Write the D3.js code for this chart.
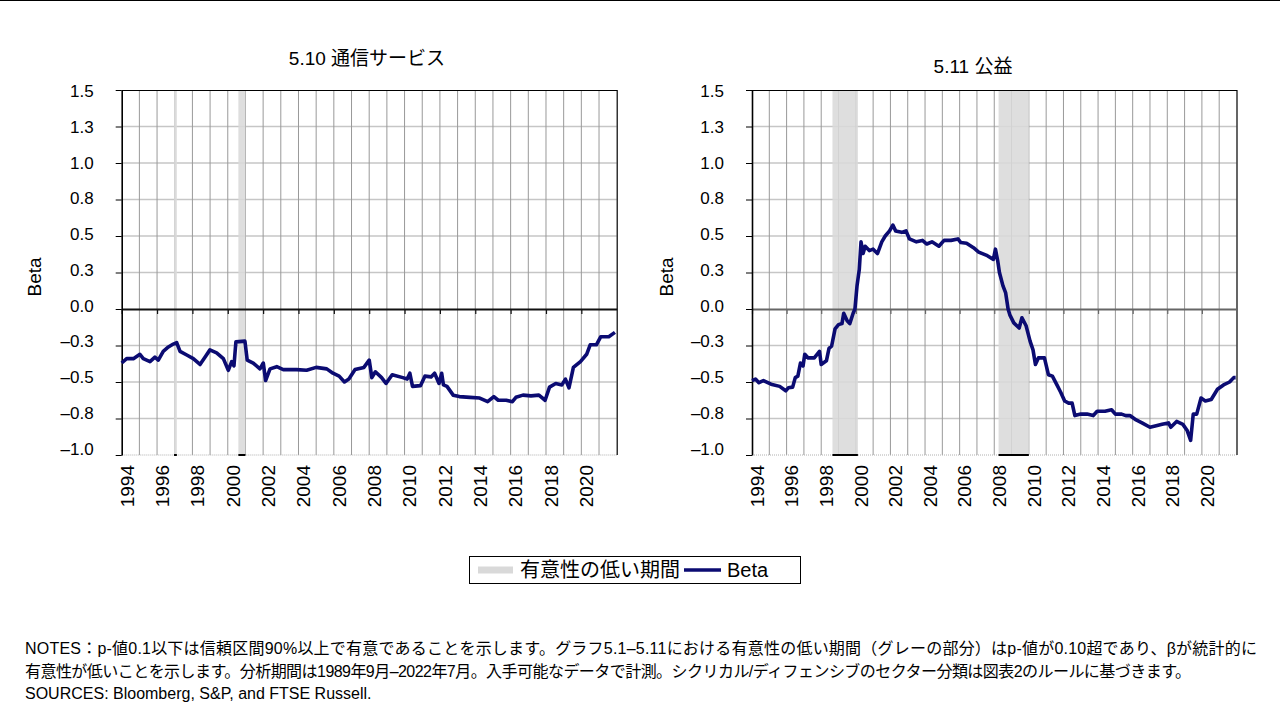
<!DOCTYPE html>
<html>
<head>
<meta charset="utf-8">
<script src="https://cdn.jsdelivr.net/npm/d3@7"></script>
<style>
  body { margin: 0; background: #fff; }
  text { font-family: "Liberation Sans", Arial, "Noto Sans CJK JP", sans-serif; fill: #000; }
</style>
</head>
<body>
<div class="chart"></div>
<script>
// ---- data ----
const commYears = [1994.0,1994.28,1994.66,1995.03,1995.22,1995.6,1995.88,1996.07,1996.35,1996.64,1996.92,1997.11,1997.3,1997.68,1998.05,1998.43,1998.71,1998.99,1999.37,1999.75,2000.03,2000.22,2000.35,2000.46,2000.97,2001.1,2001.44,2001.82,2002.01,2002.14,2002.39,2002.77,2003.14,2003.9,2004.46,2005.0,2005.6,2005.95,2006.3,2006.6,2006.85,2007.2,2007.7,2008.0,2008.15,2008.35,2008.7,2008.95,2009.3,2009.9,2010.15,2010.3,2010.45,2010.9,2011.15,2011.5,2011.7,2011.95,2012.1,2012.2,2012.4,2012.75,2013.1,2013.7,2014.25,2014.7,2015.05,2015.3,2015.75,2016.1,2016.3,2016.7,2017.15,2017.6,2017.95,2018.2,2018.55,2018.9,2019.1,2019.3,2019.55,2019.95,2020.3,2020.5,2020.85,2021.1,2021.55,2021.9];
const commBeta = [-0.37,-0.34,-0.34,-0.31,-0.34,-0.36,-0.33,-0.35,-0.29,-0.26,-0.24,-0.23,-0.29,-0.315,-0.34,-0.38,-0.33,-0.28,-0.30,-0.34,-0.42,-0.36,-0.39,-0.225,-0.22,-0.35,-0.37,-0.41,-0.37,-0.49,-0.41,-0.395,-0.415,-0.415,-0.42,-0.40,-0.41,-0.44,-0.46,-0.50,-0.48,-0.415,-0.40,-0.35,-0.47,-0.43,-0.47,-0.51,-0.45,-0.47,-0.48,-0.44,-0.53,-0.525,-0.46,-0.465,-0.44,-0.51,-0.44,-0.52,-0.53,-0.59,-0.60,-0.605,-0.61,-0.635,-0.60,-0.625,-0.625,-0.635,-0.605,-0.59,-0.595,-0.59,-0.625,-0.535,-0.51,-0.52,-0.48,-0.54,-0.40,-0.36,-0.31,-0.245,-0.245,-0.19,-0.19,-0.16];

const utilYears = [1994.0,1994.2,1994.4,1994.66,1995.1,1995.6,1995.95,1996.1,1996.35,1996.5,1996.65,1996.8,1996.95,1997.05,1997.25,1997.6,1997.9,1998.0,1998.3,1998.45,1998.6,1998.8,1999.0,1999.2,1999.3,1999.5,1999.65,1999.85,1999.95,2000.07,2000.2,2000.3,2000.42,2000.54,2000.78,2001.0,2001.25,2001.5,2001.7,2001.95,2002.14,2002.3,2002.65,2002.9,2003.1,2003.5,2003.85,2004.1,2004.4,2004.8,2005.1,2005.5,2005.9,2006.07,2006.4,2006.8,2007.1,2007.6,2007.95,2008.07,2008.2,2008.3,2008.5,2008.66,2008.8,2008.9,2009.13,2009.44,2009.6,2009.84,2010.07,2010.24,2010.38,2010.55,2010.9,2011.13,2011.36,2011.6,2011.84,2012.07,2012.3,2012.5,2012.66,2013.0,2013.36,2013.72,2013.95,2014.4,2014.78,2015.0,2015.36,2015.6,2015.84,2016.2,2016.54,2017.0,2017.36,2017.7,2018.07,2018.2,2018.54,2018.9,2019.14,2019.35,2019.5,2019.7,2019.95,2020.2,2020.54,2020.9,2021.25,2021.6,2021.84,2021.95];
const utilBeta = [-0.49,-0.48,-0.505,-0.49,-0.515,-0.53,-0.56,-0.54,-0.535,-0.47,-0.46,-0.37,-0.39,-0.31,-0.335,-0.335,-0.29,-0.38,-0.355,-0.27,-0.255,-0.136,-0.107,-0.10,-0.03,-0.08,-0.10,-0.027,0.0,0.16,0.27,0.46,0.38,0.43,0.40,0.41,0.38,0.46,0.50,0.535,0.575,0.535,0.525,0.535,0.48,0.46,0.47,0.445,0.46,0.43,0.47,0.47,0.48,0.455,0.45,0.42,0.39,0.365,0.34,0.41,0.33,0.25,0.16,0.11,0.0,-0.04,-0.095,-0.13,-0.06,-0.115,-0.22,-0.28,-0.38,-0.335,-0.335,-0.45,-0.46,-0.515,-0.57,-0.63,-0.645,-0.645,-0.73,-0.72,-0.72,-0.73,-0.70,-0.70,-0.69,-0.72,-0.72,-0.73,-0.73,-0.76,-0.78,-0.81,-0.80,-0.79,-0.78,-0.81,-0.77,-0.79,-0.83,-0.90,-0.72,-0.72,-0.61,-0.63,-0.62,-0.55,-0.52,-0.50,-0.47,-0.47];

// low significance periods (start, end) in decimal years
const commLowSig = [[1996.96, 1997.12], [2000.6, 2001.0]];
const utilLowSig = [[1998.65, 2000.12], [2008.25, 2010.0]];

const yTicks = [-1, -0.75, -0.5, -0.25, 0, 0.25, 0.5, 0.75, 1, 1.25, 1.5];
const yTickLabels = ["–1.0", "–0.8", "–0.5", "–0.3", "0.0", "0.3", "0.5", "0.8", "1.0", "1.3", "1.5"];
const xTickYears = [1994, 1996, 1998, 2000, 2002, 2004, 2006, 2008, 2010, 2012, 2014, 2016, 2018, 2020];

const titles = ["5.10 通信サービス", "5.11 公益"];
const legendLabels = ["有意性の低い期間", "Beta"];
const notes = [
  "NOTES：p-値0.1以下は信頼区間90%以上で有意であることを示します。グラフ5.1–5.11における有意性の低い期間（グレーの部分）はp-値が0.10超であり、βが統計的に",
  "有意性が低いことを示します。分析期間は1989年9月–2022年7月。入手可能なデータで計測。シクリカル/ディフェンシブのセクター分類は図表2のルールに基づきます。",
  "SOURCES: Bloomberg, S&P, and FTSE Russell."
];

// ---- svg ----
let svgWidth = 1280;
let svgHeight = 720;
const lineColor = "#0b0b72";
const shadeColor = "#d9d9d9";

let svg = d3.select(".chart")
  .append("svg")
  .attr("width", svgWidth)
  .attr("height", svgHeight);

svg.append("line")
  .attr("x1", 0).attr("x2", svgWidth)
  .attr("y1", 0.5).attr("y2", 0.5)
  .attr("stroke", "#000").attr("stroke-width", 1);

function drawPanel(p) {
  let g = svg.append("g");

  let x = d3.scaleLinear().domain([1994, 2022]).range([p.left, p.right]);
  let y = d3.scaleLinear().domain([-1, 1.5]).range([p.bottom, p.top]);
  // the tick labels sit slightly off their gridlines in the original
  let yLab = d3.scaleLinear().domain([-1, 1.5]).range([p.bottom - 6.5, p.top + 1]);

  // horizontal gridlines
  g.selectAll(".hgrid")
    .data(yTicks.filter(d => d !== 0 && d !== -1 && d !== 1.5))
    .enter().append("line")
    .attr("x1", p.left).attr("x2", p.right)
    .attr("y1", d => y(d)).attr("y2", d => y(d))
    .attr("stroke", "#c6c6c6").attr("stroke-width", 1.5);

  // vertical gridlines every year
  g.selectAll(".vgrid")
    .data(d3.range(1995, 2022))
    .enter().append("line")
    .attr("x1", d => x(d)).attr("x2", d => x(d))
    .attr("y1", p.top).attr("y2", p.bottom)
    .attr("stroke", "#999").attr("stroke-width", 1);

  // low significance shading
  g.selectAll(".shade")
    .data(p.lowSig)
    .enter().append("rect")
    .attr("x", d => x(d[0]))
    .attr("width", d => x(d[1]) - x(d[0]))
    .attr("y", p.top)
    .attr("height", p.bottom - p.top)
    .attr("fill", shadeColor)
    .attr("opacity", 0.88);

  // bottom dotted edge
  g.append("line")
    .attr("x1", p.left).attr("x2", p.right)
    .attr("y1", p.bottom).attr("y2", p.bottom)
    .attr("stroke", "#b0b0b0").attr("stroke-width", 1)
    .attr("stroke-dasharray", "1,1");

  g.selectAll(".shadebase")
    .data(p.lowSig)
    .enter().append("line")
    .attr("x1", d => x(d[0])).attr("x2", d => x(d[1]))
    .attr("y1", p.bottom).attr("y2", p.bottom)
    .attr("stroke", "#000").attr("stroke-width", 2);

  // top and right border
  g.append("path")
    .attr("d", `M${p.left},${p.top + 0.5}H${p.right + 0.5}V${p.bottom}`)
    .attr("fill", "none").attr("stroke", "#000").attr("stroke-width", 1.2);

  // zero line with year ticks
  let zeroAxis = d3.axisBottom(x)
    .tickValues(xTickYears)
    .tickSize(5)
    .tickSizeOuter(0)
    .tickFormat("");
  let za = g.append("g")
    .attr("transform", `translate(0,${y(0)})`)
    .call(zeroAxis);
  za.select(".domain").attr("stroke", p.zeroColor).attr("stroke-width", 1.8);
  za.selectAll(".tick line").attr("stroke", p.zeroColor).attr("stroke-width", 1.2);

  // left axis (line + ticks), labels placed separately
  let leftAxis = d3.axisLeft(y)
    .tickValues(yTicks)
    .tickSize(6)
    .tickSizeOuter(0)
    .tickFormat("");
  let la = g.append("g")
    .attr("transform", `translate(${p.left},0)`)
    .call(leftAxis);
  la.select(".domain").attr("stroke", "#000").attr("stroke-width", 1.6);
  la.selectAll(".tick line").attr("stroke", "#000");

  g.selectAll(".ylab")
    .data(yTicks)
    .enter().append("text")
    .attr("x", p.left - 28)
    .attr("y", d => yLab(d))
    .attr("dy", "0.36em")
    .attr("text-anchor", "end")
    .style("font-size", "17px")
    .text((d, i) => yTickLabels[i]);

  // x labels, rotated
  g.selectAll(".xlab")
    .data(xTickYears)
    .enter().append("text")
    .attr("transform", d => `translate(${x(d) + 5},${p.bottom + 10}) rotate(-90)`)
    .attr("text-anchor", "end")
    .attr("dy", "0.36em")
    .style("font-size", "19px")
    .text(d => d);

  // beta line
  let pts = p.years.map((yr, i) => [yr, p.betas[i]]);
  let line = d3.line()
    .x(d => x(d[0]))
    .y(d => y(d[1]));
  g.append("path")
    .datum(pts)
    .attr("d", line)
    .attr("fill", "none")
    .attr("stroke", lineColor)
    .attr("stroke-width", 3.6)
    .attr("stroke-linejoin", "round");

  // title
  g.append("text")
    .attr("x", p.titleX).attr("y", p.titleY)
    .attr("text-anchor", "middle")
    .style("font-size", "19px")
    .text(p.title);

  // y title
  g.append("text")
    .attr("transform", `translate(${p.betaX},277) rotate(-90)`)
    .attr("text-anchor", "middle")
    .attr("dy", "0.36em")
    .style("font-size", "19px")
    .text("Beta");
}

drawPanel({
  left: 121.7, right: 616.7, top: 90, bottom: 455,
  years: commYears, betas: commBeta, lowSig: commLowSig,
  title: titles[0], titleX: 367, titleY: 65, betaX: 34, zeroColor: "#111"
});

drawPanel({
  left: 752, right: 1236.5, top: 90, bottom: 455,
  years: utilYears, betas: utilBeta, lowSig: utilLowSig,
  title: titles[1], titleX: 973, titleY: 73, betaX: 666, zeroColor: "#666"
});

// legend
let legend = svg.append("g");
legend.append("rect")
  .attr("x", 469.5).attr("y", 556.5)
  .attr("width", 331).attr("height", 27)
  .attr("fill", "#fff").attr("stroke", "#000").attr("stroke-width", 1);
legend.append("line")
  .attr("x1", 478).attr("x2", 513).attr("y1", 570).attr("y2", 570)
  .attr("stroke", shadeColor).attr("stroke-width", 7);
legend.append("text")
  .attr("x", 520).attr("y", 577)
  .style("font-size", "20px")
  .text(legendLabels[0]);
legend.append("line")
  .attr("x1", 684).attr("x2", 721).attr("y1", 570).attr("y2", 570)
  .attr("stroke", lineColor).attr("stroke-width", 3.6);
legend.append("text")
  .attr("x", 727).attr("y", 577)
  .style("font-size", "20px")
  .text(legendLabels[1]);

// notes
const noteWidths = [1232, 1166, null];
svg.selectAll(".note")
  .data(notes)
  .enter().append("text")
  .attr("x", 25)
  .attr("y", (d, i) => 654 + i * 22.5)
  .attr("textLength", (d, i) => noteWidths[i])
  .attr("lengthAdjust", "spacing")
  .style("font-size", "16px")
  .text(d => d);
</script>
</body>
</html>
